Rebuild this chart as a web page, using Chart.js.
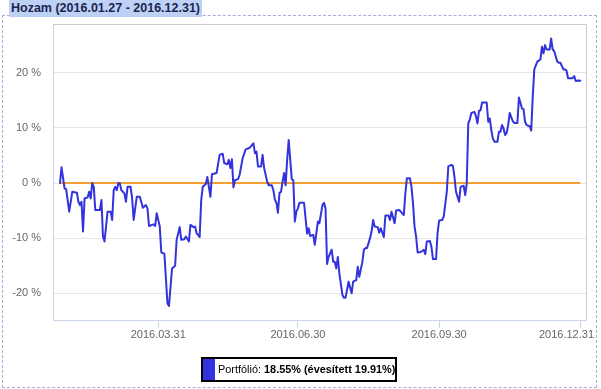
<!DOCTYPE html>
<html>
<head>
<meta charset="utf-8">
<title>Hozam</title>
<script src="https://cdn.jsdelivr.net/npm/chart.js@4.4.0/dist/chart.umd.min.js"></script>
<style>
  html, body { margin: 0; padding: 0; background: #fff; }
  body { position: relative; width: 601px; height: 389px; overflow: hidden; font-family: Arial, "Liberation Sans", sans-serif; }
  #frame { position: absolute; left: 2px; top: 15px; width: 593px; height: 371px; border: 1px dashed #b0a8da; }
  #chart { position: absolute; left: 0; top: 0; }
  #title { position: absolute; left: 9px; top: 0; height: 17px; line-height: 17px; padding: 0 2px; background: #bdd1f5; color: #1c2450; font-size: 12.5px; font-weight: bold; white-space: nowrap; }
  #legend { position: absolute; left: 201px; top: 357px; height: 25px; box-sizing: border-box; border: 2px solid #000; font-size: 10.9px; line-height: 21px; white-space: nowrap; color: #000; }
  #legend .swatch { display: inline-block; width: 12px; height: 21px; vertical-align: top; background: #3333dd; margin-right: 3px; }
</style>
</head>
<body>
<div id="frame"></div>
<canvas id="chart" width="601" height="389"></canvas>
<div id="title">Hozam (2016.01.27 - 2016.12.31)</div>
<div id="legend"><span class="swatch"></span>Portfólió: <b>18.55% (évesített 19.91%)</b></div>

<script>
// days counted from 2016.01.27
var tickDays = [64, 155, 247, 339];
var tickLabels = ['2016.03.31', '2016.06.30', '2016.09.30', '2016.12.31'];
var yTicks = [-20, -10, 0, 10, 20];

var portfolioDays = [
  0, 1, 3, 4, 6, 8, 11, 12, 13, 14, 15, 16, 18, 19, 20, 21, 22, 23, 26, 27,
  28, 29, 31, 33, 34, 35, 36, 37, 38, 39, 40, 42, 43, 44, 46, 47, 48, 50, 52, 54,
  56, 57, 58, 61, 62, 63, 65, 66, 68, 70, 71, 73, 75, 76, 78, 79, 81, 82, 84, 85,
  87, 88, 89, 91, 92, 93, 95, 96, 98, 99, 102, 104, 106, 107, 109, 110, 111, 112, 113, 114,
  116, 117, 119, 121, 123, 124, 126, 127, 128, 129, 131, 132, 133, 135, 136, 138, 139, 140, 141, 142,
  143, 144, 145, 146, 147, 148, 149, 150, 151, 152, 153, 154, 155, 156, 159, 161, 162, 163, 165, 166,
  168, 169, 171, 172, 173, 174, 175, 177, 178, 179, 180, 181, 182, 184, 185, 186, 187, 188, 190, 191,
  193, 194, 195, 197, 198, 199, 200, 202, 203, 204, 205, 207, 208, 209, 211, 212, 214, 215, 216, 218,
  219, 221, 222, 224, 225, 226, 228, 229, 230, 231, 232, 233, 235, 237, 238, 239, 241, 242, 243, 245,
  246, 247, 249, 250, 252, 253, 255, 256, 257, 258, 260, 261, 263, 264, 265, 266, 267, 268, 270, 271,
  272, 273, 274, 275, 278, 279, 280, 281, 282, 283, 285, 286, 287, 288, 289, 290, 291, 292, 293, 295,
  296, 298, 299, 301, 302, 303, 304, 306, 307, 308, 309, 311, 312, 313, 314, 315, 316, 317, 319, 320,
  321, 322, 324, 325, 326, 328, 329, 330, 331, 334, 335, 336, 338, 339
];
var portfolioValues = [
  0, 2.85, -1.0, -1.1, -5.2, -1.6, -1.75, -3.4, -4.0, -3.4, -8.8, -2.8, -2.6, -1.6, -2.8, 0, -0.7, -4.9, -4.9, -3.1,
  -9.7, -10.6, -5.2, -5.2, -6.7, -1.3, -0.7, -1.3, 0, -0.1, -1.3, -1.9, -3.4, -0.7, -0.7, -2.8, -6.7, -2.5, -2.5, -4.5,
  -4.0, -4.6, -7.8, -7.5, -7.8, -5.5, -7.9, -12.6, -12.8, -21.8, -22.3, -15.5, -15.0, -10.3, -8.0, -10.3, -10.2, -9.7, -10.6, -7.6,
  -8.0, -7.9, -9.1, -9.8, -3.1, -0.7, -0.2, 1.1, -2.5, 1.6, 1.8, 5.1, 5.3, 3.6, 3.4, 4.2, 2.7, 4.3, -0.8, 0.5,
  0.7, 1.45, 4.5, 6.1, 6.3, 6.5, 7.2, 5.4, 5.7, 3.0, 3.0, 5.1, 2.7, 0.2, -0.4, -0.4, -1.3, -3.0, -3.6, -5.4,
  -1.8, -1.6, 0.2, 1.8, -0.4, 4.2, 7.8, 4.2, 0.7, 0.5, -7.0, -5.2, -4.6, -3.6, -3.6, -9.2, -8.2, -9.6, -9.4, -11.2,
  -7.0, -7.3, -4.0, -3.6, -4.6, -14.7, -13.4, -12.1, -14.3, -14.3, -15.5, -13.4, -16.4, -20.3, -20.8, -20.8, -19.4, -17.9, -20.0, -17.9,
  -17.6, -15.2, -17.0, -14.3, -12.1, -11.8, -11.8, -10.0, -8.8, -6.7, -7.9, -8.0, -9.0, -8.2, -9.8, -5.9, -5.9, -6.7, -5.2, -7.3,
  -5.0, -4.9, -5.2, -5.8, -1.9, 0.85, 0.85, -0.7, -3.7, -7.9, -9.7, -12.6, -12.5, -12.1, -12.9, -10.6, -10.5, -11.6, -13.8, -13.8,
  -9.1, -6.8, -6.7, -6.1, -1.6, 3.0, 3.3, 3.1, 1.1, -1.6, -3.4, -0.7, -0.5, -2.2, -0.1, 10.8, 11.5, 12.7, 12.9, 12.1,
  10.8, 13.1, 13.2, 14.6, 14.6, 11.1, 11.7, 9.6, 8.1, 7.5, 7.5, 9.3, 9.3, 10.5, 9.9, 8.7, 9.1, 10.5, 12.7, 11.2,
  10.9, 10.9, 15.5, 13.5, 13.4, 11.1, 10.5, 10.3, 9.5, 15.6, 20.6, 22.0, 22.2, 22.4, 24.7, 23.5, 25.0, 24.2, 24.2, 26.2,
  24.2, 23.9, 22.0, 21.8, 21.8, 20.6, 20.6, 20.4, 19.0, 19.0, 19.4, 18.5, 18.6, 18.55
];

// benchmark (0 %) line
var benchDays = [0, 339];
var benchValues = [0, 0];

function toPoints(days, values) {
  return days.map(function(d, i) { return { x: d, y: values[i] }; });
}

// labels are measured right-aligned (so no extra right padding),
// then drawn centred; the last one stays inside the box
var justifyLabels = {
  id: 'justifyLabels',
  beforeDraw: function(chart) {
    var items = chart.scales.x.getLabelItems();
    items.forEach(function(item, i) {
      if (i === items.length - 1) {
        item.options.textAlign = 'right';
        item.options.translation[0] = chart.width - 7;
      } else {
        item.options.textAlign = 'center';
      }
    });
  }
};

var plotFrame = {
  id: 'plotFrame',
  beforeDatasetsDraw: function(chart) {
    var a = chart.chartArea;
    var ctx = chart.ctx;
    ctx.save();
    ctx.strokeStyle = '#cccccc';
    ctx.lineWidth = 1;
    ctx.beginPath();
    ctx.moveTo(a.left, Math.floor(a.top) + 0.5);
    ctx.lineTo(Math.floor(a.right) + 0.5, Math.floor(a.top) + 0.5);
    ctx.lineTo(Math.floor(a.right) + 0.5, a.bottom);
    ctx.stroke();
    ctx.restore();
  }
};

var tickFont = { family: 'Arial, "Liberation Sans", sans-serif', size: 11 };

new Chart(document.getElementById('chart'), {
  type: 'line',
  data: {
    datasets: [{
      label: 'Portfólió',
      data: toPoints(portfolioDays, portfolioValues),
      borderColor: '#3333dd',
      borderWidth: 2,
      borderJoinStyle: 'round',
      borderCapStyle: 'round',
      pointRadius: 0,
      tension: 0,
      fill: false
    }, {
      label: 'Benchmark',
      data: toPoints(benchDays, benchValues),
      borderColor: '#f5a030',
      borderWidth: 2,
      pointRadius: 0,
      fill: false
    }]
  },
  options: {
    responsive: false,
    animation: false,
    events: [],
    layout: {
      autoPadding: false,
      padding: { top: 24, right: 15, bottom: 39, left: 0 }
    },
    plugins: {
      legend: { display: false },
      tooltip: { enabled: false }
    },
    scales: {
      x: {
        type: 'linear',
        min: -4.56,
        max: 342.7,
        afterBuildTicks: function(scale) {
          scale.ticks = tickDays.map(function(d) { return { value: d }; });
        },
        afterFit: function(scale) { scale.height = 30; },
        grid: { drawOnChartArea: false, drawTicks: true, tickLength: 8, color: '#ccd6eb' },
        border: { display: true, color: '#ccd6eb', width: 1 },
        ticks: {
          autoSkip: false,
          maxRotation: 0,
          minRotation: 0,
          align: 'end',
          padding: 0,
          color: '#666666',
          font: tickFont,
          callback: function(v, i) { return tickLabels[i]; }
        }
      },
      y: {
        min: -24.84,
        max: 28.83,
        afterBuildTicks: function(scale) {
          scale.ticks = yTicks.map(function(v) { return { value: v }; });
        },
        afterFit: function(scale) { scale.width = 53; },
        grid: { color: '#e6e6e6', drawTicks: false },
        border: { display: true, color: '#ccd6eb', width: 1 },
        ticks: {
          padding: 12,
          color: '#666666',
          font: tickFont,
          callback: function(v) { return v + ' %'; }
        }
      }
    }
  },
  plugins: [plotFrame, justifyLabels]
});
</script>
</body>
</html>
